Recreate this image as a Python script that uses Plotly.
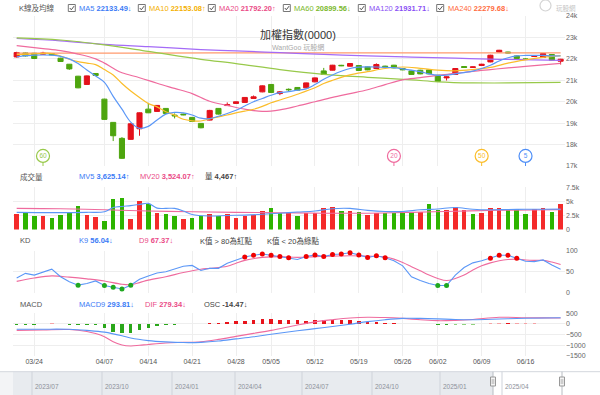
import plotly.graph_objects as go

# ---------------- data ----------------
dates = ["03/20","03/21","03/24","03/25","03/26","03/27","03/28","03/31",
         "04/01","04/02","04/07","04/08","04/09","04/10","04/11","04/14",
         "04/15","04/16","04/17","04/18","04/21","04/22","04/23","04/24",
         "04/25","04/28","04/29","04/30","05/02","05/05","05/06","05/07",
         "05/08","05/09","05/12","05/13","05/14","05/15","05/16","05/19",
         "05/20","05/21","05/22","05/23","05/26","05/27","05/28","05/29",
         "06/02","06/03","06/04","06/05","06/06","06/09","06/10","06/11",
         "06/12","06/13","06/16","06/17","06/18","06/19","06/20"]

opens  = [22090,22277,22263,22216,22249,22030,21750,21191,20805,21317,
          20120,19035,18290,18243,18737,19654,19547,19687,19375,19421,
          19268,18988,19142,19687,19820,19920,19966,20153,20460,20805,
          20380,20580,20665,20647,20926,21438,21471,21700,21657,21690,
          21625,21550,21660,21704,21550,21438,21471,21485,21238,21112,
          21271,21643,21597,21690,21857,22320,22320,22137,21995,22110,
          22062,22202,21890]
highs  = [22330,22300,22280,22330,22270,22050,21760,21205,21220,21330,
          20140,19050,18350,18990,19500,19948,19840,19700,19454,19440,
          19280,19000,19620,19700,19966,20010,20210,20290,20760,20820,
          20500,20620,20680,20890,21130,21578,21720,21720,21800,21700,
          21640,21790,21680,21720,21570,21450,21490,21500,21250,21180,
          21570,21660,21640,21770,22190,22420,22330,22150,22030,22150,
          22270,22220,22000]
lows   = [22060,22110,21990,22190,22170,21860,21485,20630,20790,21200,
          19150,18164,17330,18230,18411,19470,19530,19440,19220,19370,
          19060,18760,19130,19400,19800,19900,19950,20140,20440,20420,
          20306,20500,20520,20630,20910,21250,21460,21660,21640,21440,
          21470,21530,21610,21560,21470,21250,21280,21280,20930,20990,
          21250,21580,21580,21670,21840,22300,22260,22000,21960,22090,
          22040,21920,21736]
closes = [22295,22137,22016,22263,22185,21876,21531,20647,21205,21224,
          19175,18411,17358,18970,19482,19482,19827,19454,19342,19390,
          19082,18784,19594,19421,19860,19994,20199,20227,20740,20432,
          20460,20560,20539,20879,21112,21271,21704,21680,21783,21457,
          21485,21736,21630,21578,21485,21271,21299,21299,20945,21159,
          21550,21597,21625,21750,22170,22402,22277,22016,21980,22137,
          22249,21937,21983]

ma5 = [22090,22150,22170,22180,22170,22120,22000,21780,21480,21200,
       20900,20250,19650,19050,18760,18850,19150,19420,19500,19480,
       19380,19230,19210,19320,19450,19600,19800,20000,20150,20300,
       20420,20470,20540,20600,20800,21050,21250,21420,21550,21610,
       21625,21620,21600,21590,21530,21470,21400,21300,21230,21240,
       21300,21360,21430,21550,21700,21900,22050,22135,22160,22165,
       22160,22140,22133]
ma10_i = [0,2,4,6,7,8,9,10,11,12,13,14,15,16,17,18,19,20,21,22,23,24,25,26,27,28,29,30,
          32,34,35,36,38,40,42,44,46,48,50,52,54,56,58,60,62]
ma10_v = [22200,22230,22250,21980,21870,21800,21730,21500,21250,20850,20500,20200,19920,
          19760,19530,19375,19180,19110,19100,19200,19290,19380,19480,19560,19650,19780,
          19950,20080,20350,20650,20850,21000,21250,21400,21550,21620,21560,21470,21440,
          21500,21600,21800,21950,22070,22150]
ma20_i = [0,3,5,7,9,10,11,12,14,16,18,20,22,24,26,28,30,32,34,36,38,40,42,44,46,48,50,
          52,54,56,58,60,62]
ma20_v = [22620,22480,22380,22220,22000,21800,21560,21350,21120,20860,20620,20380,20020,
          19830,19650,19550,19620,19800,20000,20200,20380,20560,20800,21020,21120,21230,
          21320,21420,21500,21580,21650,21720,21792]
ma60_i = [0,5,10,15,21,25,30,35,40,45,48,52,56,62]
ma60_v = [22980,22880,22650,22350,21980,21780,21500,21280,21140,21020,20930,20880,20875,20900]
ma120_i = [0,5,10,15,21,25,30,35,40,45,50,55,62]
ma120_v = [22950,22840,22680,22570,22435,22370,22290,22210,22135,22080,22030,21980,21932]
ma240_i = [0,15,30,45,62]
ma240_v = [22265,22272,22278,22280,22280]

volume = [2700,3110,2400,2450,2100,2630,3110,4230,2630,2280,
          1460,5480,5660,1920,5120,4590,2990,2810,2450,1920,
          2100,2450,2700,2400,2810,2100,2400,2580,3340,3870,
          2990,2880,2450,2990,2880,3870,4050,3340,3340,3160,
          2630,2990,2990,2990,3050,3160,3160,4530,3410,3410,
          3940,3460,2810,2930,3820,3820,3410,3590,2810,3590,
          3820,3160,4467]
volume_dir = list("rggrggggrr" "gggrrgrggr" "ggrgrrrrrg" "grgrrrrgrg"
                  "rrggggrggr" "rrgrrrgggr" "rgr")
mv5_i = [0,4,8,10,11,12,13,14,15,16,17,18,19,20,22,24,26,28,30,32,34,36,38,40,42,44,46,
         48,50,52,54,56,58,60,62]
mv5_v = [3050,3000,3050,3150,3900,4100,4250,4450,4650,3800,3750,3750,3300,2650,2400,2500,
         2550,2700,2900,3100,3300,3700,3750,3400,3200,3200,3500,3650,3900,3600,3500,3550,
         3600,3600,3625]
mv20_i = [0,5,10,15,20,25,30,35,40,45,50,55,62]
mv20_v = [3760,3700,3500,3300,3150,3050,2980,2900,2900,3050,3250,3420,3524]

k9 = [35,46,42,49,56,38,26,18,22,28,17,13,9,18,32,40,47,50,56,63,
      65,53,58,58,70,78,85,89,92,89,86,83,79,86,90,86,91,92,95,90,
      84,88,83,76,64,38,29,22,17,17,42,60,71,76,82,89,89,82,75,74,
      78,66,56]
d9_i = [0,2,4,6,8,10,12,13,14,15,17,19,21,22,24,25,26,28,30,32,34,36,38,40,42,
        43,44,45,46,47,48,49,50,51,52,53,54,55,56,57,58,59,60,61,62]
d9_v = [27,35,40,37,33,28,20,19,24,30,38,48,56,58,63,70,77,84,86,84,86,87,88,87,85,
        80,72,62,52,42,34,29,34,42,54,64,71,76,79,80,78,77,77,73,67]

osc = [-40,-40,-30,0,25,0,-30,-35,-40,-50,
       -200,-360,-430,-400,-280,-180,-110,-70,-45,-15,
       0,0,40,60,80,120,150,170,210,220,
       200,190,180,160,170,190,190,200,190,125,
       95,70,50,30,20,15,0,-10,-70,-60,
       -40,-30,-25,0,30,30,45,35,30,25,
       15,5,-14]
osc_kind = list("ggggpggggg" "gggggggggl" "llrrrrrrrr" "rrrrrrrrrr"
                "rrrrppplgg" "llllpprppp" "ppg")
macd9_i = [0,3,6,8,10,12,13,15,17,19,21,23,25,27,29,32,34,36,38,40,42,44,46,48,50,52,55,58,62]
macd9_v = [-250,-245,-250,-300,-380,-550,-660,-780,-840,-870,-860,-800,-700,-600,-480,
           -320,-220,-120,-10,110,200,260,260,240,210,200,230,265,294]
dif_i = [0,3,6,8,9,10,11,12,13,14,15,17,19,21,23,25,27,29,32,34,36,38,40,42,44,46,48,50,
         52,55,58,60,62]
dif_v = [-300,-280,-260,-350,-450,-600,-830,-985,-1030,-1000,-960,-890,-860,-830,-720,
         -580,-440,-300,-50,100,200,280,315,300,260,200,155,170,210,315,290,285,279]

flag_dates = ["03/25", "05/23", "06/09", "06/16"]
flag_labels = ["60", "20", "50", "5"]

tick_dates = ["03/24","04/07","04/14","04/21","04/28","05/05","05/12","05/19",
              "05/26","06/02","06/09","06/16"]
nav_labels = ["2023/07","2023/10","2024/01","2024/04","2024/07","2024/10","2025/01","2025/04"]

# ---------------- styling ----------------
FONT = "Liberation Sans, Arial, Noto Sans CJK TC, sans-serif"
RED, GREEN = "#e3111b", "#4ea50f"
VRED, VGREEN = "#f42a2a", "#2db400"
C5, C10, C20, C60, C120, C240 = "#5b97f7", "#fbbd2a", "#ef6b9e", "#98c94a", "#a46bf7", "#ff9a6e"
GRID = "#eeeeee"

PL, PR, PT, PB = 13, 565, 16, 356
def px(p): return (p - PL) / (PR - PL)
def py(p): return (PB - p) / (PB - PT)

idx = list(range(len(dates)))
pos = {d: i for i, d in enumerate(dates)}
XR = [-0.42, 62.5]

fig = go.Figure()

# main panel
fig.add_trace(go.Candlestick(
    x=idx, open=opens, high=highs, low=lows, close=closes,
    increasing=dict(line=dict(color=RED, width=1), fillcolor=RED),
    decreasing=dict(line=dict(color=GREEN, width=1), fillcolor=GREEN),
    whiskerwidth=0, showlegend=False, hoverinfo="skip", xaxis="x", yaxis="y"))
for xi, yv, col in [(ma240_i, ma240_v, C240), (ma120_i, ma120_v, C120), (ma60_i, ma60_v, C60),
                    (ma20_i, ma20_v, C20), (ma10_i, ma10_v, C10), (idx, ma5, C5)]:
    fig.add_trace(go.Scatter(x=xi, y=yv, mode="lines", line=dict(color=col, width=1.2, shape="spline"),
                             showlegend=False, hoverinfo="skip", xaxis="x", yaxis="y"))
flag_cols = {"60": C60, "20": C20, "50": "#fbbd2a", "5": "#4f8ff7"}
FLAG_LEVEL, FLAG_FOOT = 17470, 17000
for d, lab in zip(flag_dates, flag_labels):
    fig.add_trace(go.Scatter(x=[pos[d], pos[d]], y=[FLAG_LEVEL, FLAG_FOOT], mode="lines",
                             line=dict(color=flag_cols[lab], width=1), showlegend=False,
                             hoverinfo="skip", xaxis="x", yaxis="y"))
    fig.add_trace(go.Scatter(x=[pos[d]], y=[FLAG_LEVEL], mode="markers+text", text=[lab],
                             textposition="middle center",
                             textfont=dict(size=6.5, color=flag_cols[lab], family=FONT),
                             marker=dict(size=13, color="white", line=dict(color=flag_cols[lab], width=1.2)),
                             showlegend=False, hoverinfo="skip", xaxis="x", yaxis="y", cliponaxis=False))

# volume panel
fig.add_trace(go.Bar(x=idx, y=volume, width=0.52,
                     marker=dict(color=[VRED if c == "r" else VGREEN for c in volume_dir], line=dict(width=0)),
                     showlegend=False, hoverinfo="skip", xaxis="x2", yaxis="y2"))
fig.add_trace(go.Scatter(x=mv20_i, y=mv20_v, mode="lines", line=dict(color=C20, width=1.1, shape="spline"),
                         showlegend=False, hoverinfo="skip", xaxis="x2", yaxis="y2"))
fig.add_trace(go.Scatter(x=mv5_i, y=mv5_v, mode="lines", line=dict(color=C5, width=1.1, shape="spline"),
                         showlegend=False, hoverinfo="skip", xaxis="x2", yaxis="y2"))

# KD panel
fig.add_trace(go.Scatter(x=d9_i, y=d9_v, mode="lines", line=dict(color=C20, width=1.1, shape="spline"),
                         showlegend=False, hoverinfo="skip", xaxis="x3", yaxis="y3"))
fig.add_trace(go.Scatter(x=idx, y=k9, mode="lines", line=dict(color=C5, width=1.1),
                         showlegend=False, hoverinfo="skip", xaxis="x3", yaxis="y3"))
hi = [i for i in idx if k9[i] > 80]
lo = [i for i in idx if k9[i] < 20]
fig.add_trace(go.Scatter(x=hi, y=[k9[i] for i in hi], mode="markers", marker=dict(color="#f00000", size=5),
                         showlegend=False, hoverinfo="skip", xaxis="x3", yaxis="y3", cliponaxis=False))
fig.add_trace(go.Scatter(x=lo, y=[k9[i] for i in lo], mode="markers", marker=dict(color="#1fa81f", size=5),
                         showlegend=False, hoverinfo="skip", xaxis="x3", yaxis="y3", cliponaxis=False))

# MACD panel
osc_cols = {"r": "#e8131b", "p": "#f6a3a6", "g": "#2aa71a", "l": "#8fd27f"}
fig.add_trace(go.Bar(x=idx, y=osc, width=0.4, marker=dict(color=[osc_cols[k] for k in osc_kind], line=dict(width=0)),
                     showlegend=False, hoverinfo="skip", xaxis="x4", yaxis="y4"))
fig.add_trace(go.Scatter(x=dif_i, y=dif_v, mode="lines", line=dict(color=C20, width=1.1, shape="spline"),
                         showlegend=False, hoverinfo="skip", xaxis="x4", yaxis="y4"))
fig.add_trace(go.Scatter(x=macd9_i, y=macd9_v, mode="lines", line=dict(color=C5, width=1.1, shape="spline"),
                         showlegend=False, hoverinfo="skip", xaxis="x4", yaxis="y4"))

tickvals = [pos[d] for d in tick_dates]
xbase = dict(range=XR, showgrid=True, gridcolor=GRID, gridwidth=1, tickvals=tickvals, ticktext=tick_dates,
             zeroline=False, showline=False, ticks="", rangeslider=dict(visible=False), fixedrange=True)
ybase = dict(side="right", showgrid=True, gridcolor=GRID, zeroline=False, showline=False, ticks="",
             tickfont=dict(size=7, color="#666", family=FONT), fixedrange=True)

layout = dict(
    width=600, height=395, paper_bgcolor="white", plot_bgcolor="white",
    margin=dict(l=PL, r=600 - PR, t=PT, b=395 - PB, pad=0),
    font=dict(family=FONT), showlegend=False, boxgap=0.42, boxgroupgap=0, bargap=0,
    xaxis=dict(xbase, domain=[0, 1], anchor="y", showticklabels=False),
    xaxis2=dict(xbase, domain=[0, 1], anchor="y2", showticklabels=False, matches="x"),
    xaxis3=dict(xbase, domain=[0, 1], anchor="y3", showticklabels=False, matches="x"),
    xaxis4=dict(xbase, domain=[0, 1], anchor="y4", showticklabels=True, matches="x",
                tickfont=dict(size=7, color="#555", family=FONT)),
    yaxis=dict(ybase, domain=[py(166), 1], range=[17000, 24000],
               tickvals=[17000, 18000, 19000, 20000, 21000, 22000, 23000, 24000],
               ticktext=["17k", "18k", "19k", "20k", "21k", "22k", "23k", "24k"]),
    yaxis2=dict(ybase, domain=[py(229.5), py(187.3)], range=[0, 7500],
                tickvals=[0, 2500, 5000, 7500], ticktext=["0", "2.5k", "5k", "7.5k"]),
    yaxis3=dict(ybase, domain=[py(292.7), py(250.7)], range=[0, 100], tickvals=[0, 50, 100]),
    yaxis4=dict(ybase, domain=[0, py(313.3)], range=[-1500, 500],
                tickvals=[-1500, -1000, -500, 0, 500]),
)

ann = []
HF = 7.5
def label(x, y, text, color, size=HF):
    ann.append(dict(x=px(x), y=py(y), xref="paper", yref="paper", text=text, showarrow=False,
                    xanchor="left", yanchor="middle", font=dict(size=size, color=color, family=FONT),
                    borderpad=0))

shapes = []
def checkbox(x, y=4.5):
    shapes.append(dict(type="rect", xref="paper", yref="paper", x0=px(x), x1=px(x + 7), y0=py(y + 7), y1=py(y),
                       line=dict(color="#777", width=1), fillcolor="white"))
    shapes.append(dict(type="path", xref="paper", yref="paper",
                       path=f"M {px(x+1.5)},{py(y+3.5)} L {px(x+3)},{py(y+5.3)} L {px(x+5.8)},{py(y+1.6)}",
                       line=dict(color="#555", width=1)))

# header row 1
label(18, 8, "K線及均線", "#555")
for cx, tx, txt, col in [(68.3, 78, "MA5 <b>22133.49</b>↓", "#3b7bf6"),
                         (138.3, 148, "MA10 <b>22153.08</b>↑", "#f4b000"),
                         (208.3, 218, "MA20 <b>21792.20</b>↑", "#ea4a86"),
                         (283.3, 293, "MA60 <b>20899.56</b>↓", "#7bb82c"),
                         (358.3, 368, "MA120 <b>21931.71</b>↓", "#8a4ff5"),
                         (436.7, 447, "MA240 <b>22279.68</b>↓", "#ff6b3d")]:
    checkbox(cx)
    label(tx, 8, txt, col)

ann.append(dict(x=px(298), y=py(34), xref="paper", yref="paper", text="加權指數(0000)", showarrow=False,
                xanchor="center", yanchor="middle", font=dict(size=11, color="#333", family=FONT)))
ann.append(dict(x=px(298), y=py(47.5), xref="paper", yref="paper", text="WantGoo 玩股網", showarrow=False,
                xanchor="center", yanchor="middle", font=dict(size=7, color="#aaa", family=FONT)))
ann.append(dict(x=px(566), y=py(8), xref="paper", yref="paper", text="玩股網", showarrow=False,
                xanchor="center", yanchor="middle", font=dict(size=6.5, color="#c4c4c4", family=FONT)))
shapes.append(dict(type="circle", xref="paper", yref="paper", x0=px(540), x1=px(551), y0=py(11), y1=py(0),
                   line=dict(color="#d4d4d4", width=1.2)))

# volume header
label(19, 176.5, "成交量", "#555")
label(78, 176.5, "MV5 <b>3,625.14</b>↑", "#3b7bf6")
label(139, 176.5, "MV20 <b>3,524.07</b>↑", "#ea4a86")
label(204, 176.5, "量 <b>4,467</b>↑", "#444")
# KD header
label(19, 240.7, "KD", "#555")
label(78, 240.7, "K9 <b>56.04</b>↓", "#3b7bf6")
label(138, 240.7, "D9 <b>67.37</b>↓", "#ea4a86")
label(199, 240.7, "K值 &gt; 80為紅點", "#444")
label(266, 240.7, "K值 &lt; 20為綠點", "#444")
# MACD header
label(19, 304, "MACD", "#555")
label(78, 304, "MACD9 <b>293.81</b>↓", "#3b7bf6")
label(144, 304, "DIF <b>279.34</b>↓", "#ea4a86")
label(203, 304, "OSC <b>-14.47</b>↓", "#444")

# navigator
NT, NB = 371.7, 395
shapes.append(dict(type="rect", xref="paper", yref="paper", x0=px(0), x1=px(13), y0=py(NB), y1=py(NT),
                   fillcolor="#f3f4f6", line=dict(width=0), layer="below"))
shapes.append(dict(type="rect", xref="paper", yref="paper", x0=px(13), x1=px(493), y0=py(NB), y1=py(NT),
                   fillcolor="#e8ebef", line=dict(width=0), layer="below"))
shapes.append(dict(type="line", xref="paper", yref="paper", x0=px(0), x1=px(600), y0=py(NT), y1=py(NT),
                   line=dict(color="#d3d7dd", width=1)))
nav_x = [32, 102, 172, 235, 302, 372, 440, 502]
for xx, lab in zip(nav_x, nav_labels):
    shapes.append(dict(type="line", xref="paper", yref="paper", x0=px(xx), x1=px(xx), y0=py(NB), y1=py(NT),
                       line=dict(color="#cfd3da", width=1)))
    label(xx + 1.5, 387, lab, "#8c919a", size=6.5)
for hx in [493, 562]:
    shapes.append(dict(type="line", xref="paper", yref="paper", x0=px(hx), x1=px(hx), y0=py(NB), y1=py(NT),
                       line=dict(color="#b8bcc2", width=1)))
    shapes.append(dict(type="rect", xref="paper", yref="paper", x0=px(hx - 2.5), x1=px(hx + 2.5),
                       y0=py(386), y1=py(377), fillcolor="#f4f4f4", line=dict(color="#999", width=1)))
    for gx in (hx - 0.8, hx + 0.8):
        shapes.append(dict(type="line", xref="paper", yref="paper", x0=px(gx), x1=px(gx),
                           y0=py(384), y1=py(379), line=dict(color="#999", width=0.6)))

layout["annotations"] = ann
layout["shapes"] = shapes
fig.update_layout(**layout)
fig.write_html("out.html", config={"displayModeBar": False, "staticPlot": True},
               post_script="document.body.style.margin='0';document.body.style.overflow='hidden';")
